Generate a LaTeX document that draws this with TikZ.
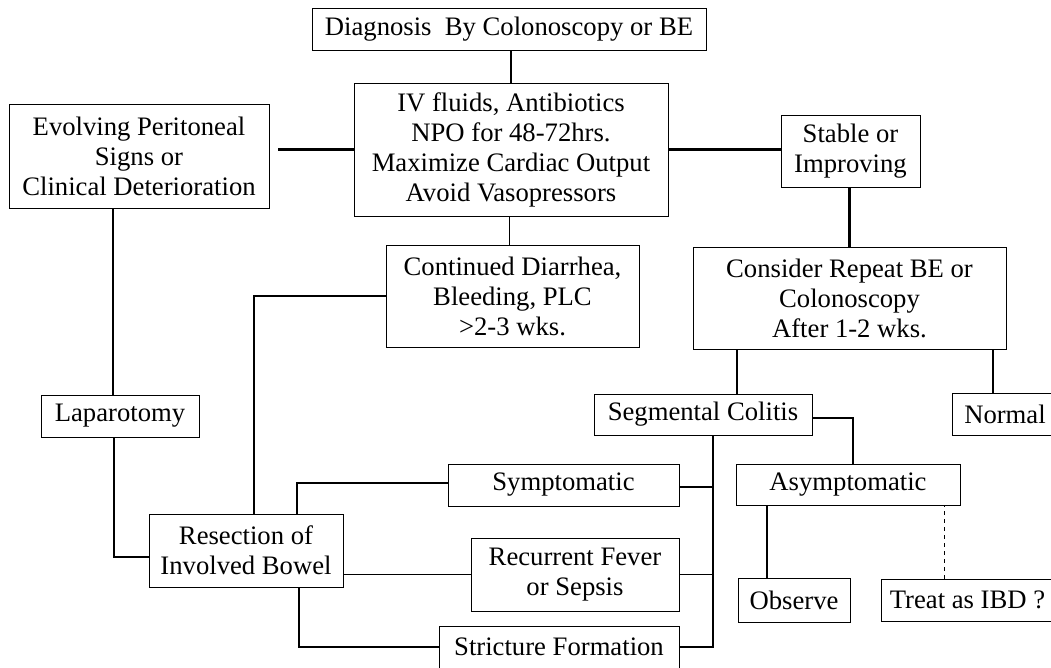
\documentclass[tikz,border=0pt]{standalone}
\usepackage{fontspec}
\setmainfont{Liberation Serif}
\usetikzlibrary{calc}

\tikzset{every picture/.style={line width=0.75pt}}
\tikzset{
  box/.style 2 args={draw, line width=0.75pt, align=center, inner sep=0pt,
    minimum width=#1*0.75pt, minimum height=#2*0.75pt,
    font=\fontsize{20}{22.5}\selectfont},
  heavy/.style={line width=2pt},
  light/.style={line width=1.1pt}
}

\begin{document}
\begin{tikzpicture}[x=0.75pt,y=0.75pt,yscale=-1,xscale=1]
%set diagram left start at 0, and has height of 668
\useasboundingbox (0,0) rectangle (1051,668);

% Text Node
\node [box={394}{42}] (diag) at (509,29) {Diagnosis\ \ By Colonoscopy or BE};
% Text Node
\node [box={314}{133}] (ivf) at (511,149.5) {IV fluids, Antibiotics\\NPO for 48-72hrs.\\Maximize Cardiac Output\\Avoid Vasopressors};
% Text Node
\node [box={260}{104}] (evol) at (139,156) {Evolving Peritoneal\\Signs or\\Clinical Deterioration};
% Text Node
\node [box={139}{72}] (stab) at (850.5,151) {Stable or\\Improving};
% Text Node
\node [box={253}{102}] (cont) at (512.5,296) {Continued Diarrhea,\\Bleeding, PLC\\>2-3 wks.};
% Text Node
\node [box={313}{102}] (cons) at (849.5,298) {Consider Repeat BE or\\Colonoscopy\\After 1-2 wks.};
% Text Node
\node [box={158}{42}] (lap) at (120,416) {Laparotomy};
% Text Node
\node [box={194}{73}] (res) at (246,550.5) {Resection of\\Involved Bowel};
% Text Node
\node [box={231}{42}] (symp) at (563.5,485) {Symptomatic};
% Text Node
\node [box={208}{73}] (recur) at (575,574.5) {Recurrent Fever\\or Sepsis};
% Text Node
\node [box={240}{42}] (strict) at (559,647) {Stricture Formation};
% Text Node
\node [box={218}{41}] (seg) at (703,414.5) {Segmental Colitis};
% Text Node
\node [box={106}{42}] (norm) at (1005,414) {Normal};
% Text Node
\node [box={224}{41}] (asym) at (848,484.5) {Asymptomatic};
% Text Node
\node [box={112}{44}] (obs) at (794,600) {Observe};
% Text Node
\node [box={173}{42}] (treat) at (967.5,600) {Treat as IBD ?};

%Straight Lines
\draw [light] (ivf.north) -- (ivf.north |- diag.south);
\draw [heavy] (ivf.west) -- ($(evol.east |- ivf.west)+(8,0)$);
\draw [heavy] (ivf.east) -- (ivf.east -| stab.west);
\draw [light] ($(cont.north)+(-3,0)$) -- ($(cont.north |- ivf.south)+(-3,0)$);
\draw [heavy] (cons.north) -- (cons.north |- stab.south);
\draw [heavy] ($(lap.north)+(-7,0)$) -- ($(lap.north |- evol.south)+(-7,0)$);
\draw [heavy] ($(lap.south)+(-6,0)$) |- ($(res.west)+(0,6.5)$);
\draw [heavy] (cont.west) -| ($(res.north)+(8,0)$);
%Straight Lines
\draw [light] ($(res.north)+(51,0)$) |- ($(symp.west)+(0,-2)$);
\draw [light] (recur.west) -- (recur.west -| res.east);
\draw [light] ($(res.south)+(53,0)$) |- (strict.west);
\coordinate (bus) at ($(seg.south)+(10,0)$);
\draw [light] (bus) |- (strict.east);
\draw [light] ($(symp.east)+(0,2)$) -- ($(symp.east -| bus)+(0,2)$);
\draw [light] (recur.east) -- (recur.east -| bus);
\draw [light] ($(seg.east)+(0,3.5)$) -| ($(asym.north)+(5,0)$);
\draw [heavy] ($(seg.north)+(34,0)$) -- ($(seg.north |- cons.south)+(34,0)$);
\draw [heavy] ($(norm.north)+(-12,0)$) -- ($(norm.north |- cons.south)+(-12,0)$);
\draw [light] ($(obs.north)+(-27,0)$) -- ($(obs.north |- asym.south)+(-27,0)$);
\draw [line width=0.75pt, dashed] ($(treat.north)+(-23.5,0)$) -- ($(treat.north |- asym.south)+(-23.5,0)$);
\end{tikzpicture}
\end{document}
